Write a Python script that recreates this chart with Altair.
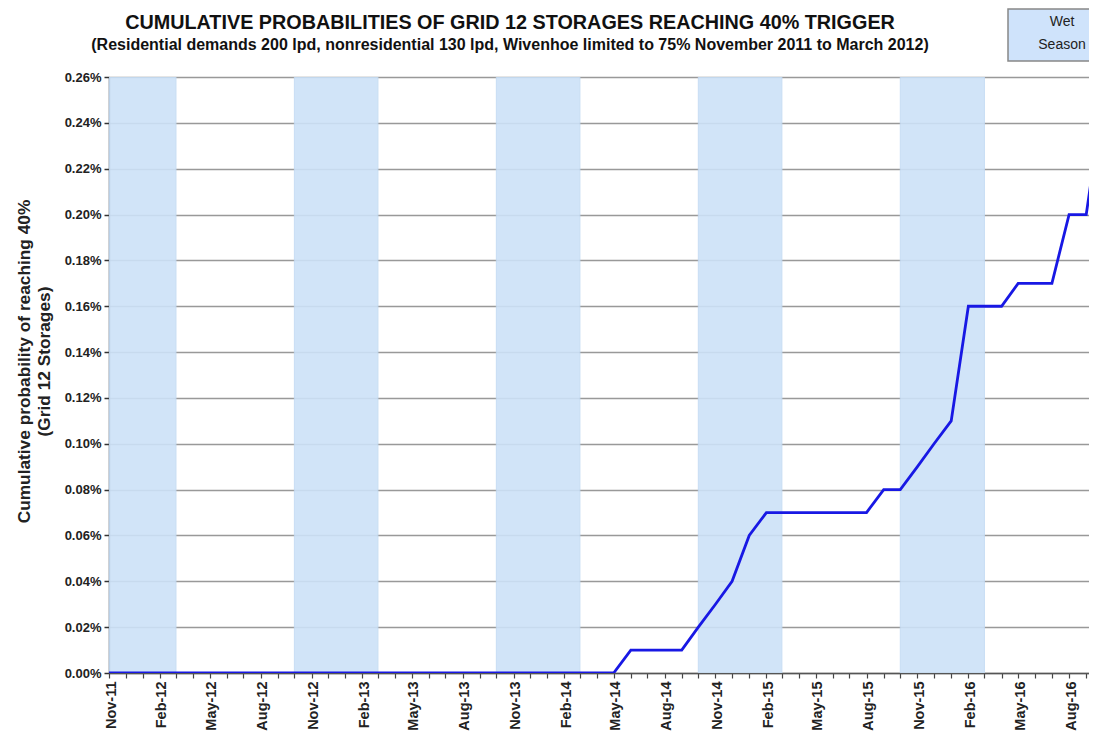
import altair as alt
import pandas as pd

# Monthly categories Nov-11 .. Oct-16
months = pd.date_range("2011-11-01", "2016-10-01", freq="MS")

# Cumulative probability (%) of reaching 40% trigger, one value per month
prob_pct = [
    0.00, 0.00, 0.00, 0.00, 0.00, 0.00, 0.00, 0.00, 0.00, 0.00,  # Nov-11..Aug-12
    0.00, 0.00, 0.00, 0.00, 0.00, 0.00, 0.00, 0.00, 0.00, 0.00,  # Sep-12..Jun-13
    0.00, 0.00, 0.00, 0.00, 0.00, 0.00, 0.00, 0.00, 0.00, 0.00,  # Jul-13..Apr-14
    0.00, 0.01, 0.01, 0.01, 0.01, 0.02, 0.03, 0.04, 0.06, 0.07,  # May-14..Feb-15
    0.07, 0.07, 0.07, 0.07, 0.07, 0.07, 0.08, 0.08, 0.09, 0.10,  # Mar-15..Dec-15
    0.11, 0.16, 0.16, 0.16, 0.17, 0.17, 0.17, 0.20, 0.20, 0.25,  # Jan-16..Oct-16
]

# Wet season shading periods
season_start = ["2011-11-01", "2012-10-01", "2013-10-01", "2014-10-01", "2015-10-01"]
season_end = ["2012-03-01", "2013-03-01", "2014-03-01", "2015-03-01", "2016-03-01"]

y_ticks = [0.0000, 0.0002, 0.0004, 0.0006, 0.0008, 0.0010, 0.0012,
           0.0014, 0.0016, 0.0018, 0.0020, 0.0022, 0.0024, 0.0026]

line_df = pd.DataFrame({"month": months, "prob": [p / 100 for p in prob_pct]})
season_df = pd.DataFrame({"start": pd.to_datetime(season_start),
                          "end": pd.to_datetime(season_end)})

FONT = "Liberation Sans"

x_scale = alt.Scale(domain=[alt.DateTime(year=2011, month=11, date=1),
                            alt.DateTime(year=2016, month=9, date=6)])
y_scale = alt.Scale(domain=[0, 0.0026])

x_axis = alt.Axis(
    title=None,
    tickCount=alt.TimeIntervalStep(interval="month", step=1),
    labelExpr="month(datum.value) % 3 == 1 ? timeFormat(datum.value, '%b-%y') : ''",
    labelAngle=-90, labelFont=FONT, labelFontSize=14.5, labelFontWeight="bold",
    labelColor="#222222", labelOverlap=False, labelFlush=False, labelPadding=3,
    labelOffset=2,
    tickSize=5, tickColor="#444444", tickWidth=1.2,
    domainColor="#555555", domainWidth=1.5, grid=False,
)

y_axis = alt.Axis(
    values=y_ticks, format=".2%",
    title=["Cumulative probability of reaching 40%", "(Grid 12 Storages)"],
    titleFont=FONT, titleFontSize=17.3, titleFontWeight="bold", titleColor="#222222",
    titlePadding=11, titleLineHeight=20, titleY=284,
    labelFont=FONT, labelFontSize=13, labelFontWeight="bold", labelColor="#222222",
    labelPadding=3,
    tickSize=5, tickColor="#333333", tickWidth=1.5,
    domainColor="#3c4a5a", domainWidth=1.5,
    grid=True, gridColor="#999999", gridWidth=1.3,
)

shade = alt.Chart(season_df).mark_rect(
    fill="#cde2f8", opacity=0.9, stroke="#c2daf3", strokeWidth=1, clip=True
).encode(
    x=alt.X("start:T", scale=x_scale, axis=x_axis),
    x2="end:T",
    y=alt.datum(0.0026, scale=y_scale, axis=y_axis),
    y2=alt.datum(0),
)

line = alt.Chart(line_df).mark_line(
    color="#1818e4", strokeWidth=2.8, clip=True
).encode(
    x=alt.X("month:T", scale=x_scale),
    y=alt.Y("prob:Q", scale=y_scale),
)

legend_df = pd.DataFrame({"label": ["Wet\nSeason"]})
legend_box = alt.Chart(legend_df).mark_rect(
    fill="#cfe3fb", stroke="#888888", strokeWidth=1.5
).encode(
    x=alt.value(899), x2=alt.value(1007),
    y=alt.value(-68), y2=alt.value(-16),
)
legend_text = alt.Chart(legend_df).mark_text(
    font=FONT, fontSize=14, color="#222222", lineBreak="\n", lineHeight=23,
    align="center", baseline="middle"
).encode(
    x=alt.value(953), y=alt.value(-55), text="label:N",
)

chart = alt.layer(shade, line, legend_box, legend_text).properties(
    width=980, height=596,
    autosize=alt.AutoSizeParams(type="none"),
    padding={"left": 101, "top": 69, "right": 0, "bottom": 58},
    title=alt.TitleParams(
        text="CUMULATIVE PROBABILITIES OF  GRID 12 STORAGES REACHING 40% TRIGGER",
        subtitle="(Residential demands 200 lpd, nonresidential 130 lpd, Wivenhoe limited to 75% November 2011 to March 2012)",
        font=FONT, fontSize=19.8, fontWeight="bold", color="#111111",
        subtitleFont=FONT, subtitleFontSize=16, subtitleFontWeight="bold",
        subtitleColor="#111111", subtitlePadding=4,
        anchor="middle", dx=-89, dy=45, offset=0,
    ),
).configure_view(stroke=None).configure(background="white")

chart.save("out.html", embed_options={"renderer": "svg", "actions": False})
